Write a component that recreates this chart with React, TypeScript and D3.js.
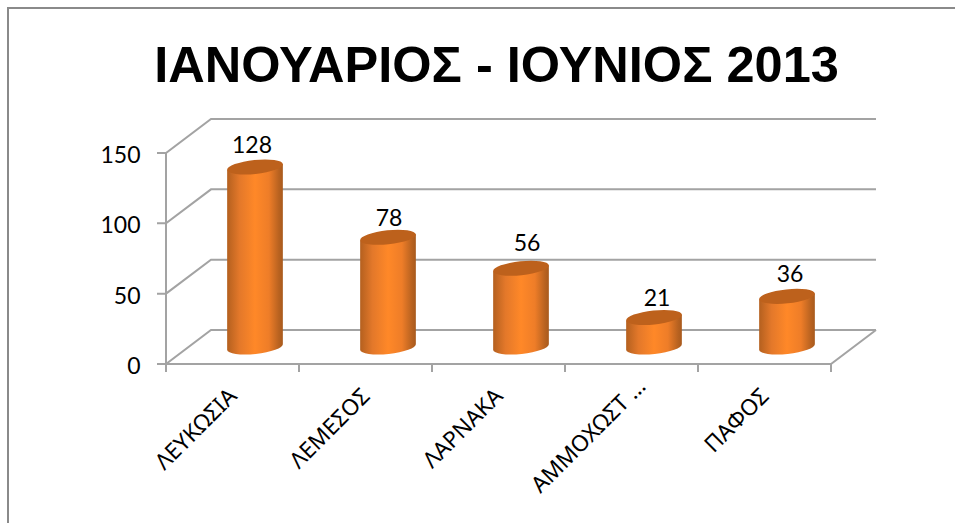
import React from "react";
import * as d3 from "d3";

const title = "ΙΑΝΟΥΑΡΙΟΣ - ΙΟΥΝΙΟΣ 2013";
const categories = ["ΛΕΥΚΩΣΙΑ", "ΛΕΜΕΣΟΣ", "ΛΑΡΝΑΚΑ", "ΑΜΜΟΧΩΣΤ …", "ΠΑΦΟΣ"];
const values = [128, 78, 56, 21, 36];
const yTicks = [0, 50, 100, 150];
// hand-placed data label offsets, as in the original chart
const valueLabelDx = [-3, 1, 6, 3, 3];
const valueLabelDy = [-14, -11, -17, -11.5, -14.5];
const categoryLabelShift = [0, 0, 0, 10, 0];

const W = 955, H = 523;
const depthX = 45, depthY = -34;
const x = d3.scaleBand<string>().domain(categories).range([166, 831]);
const y = d3.scaleLinear().domain([0, 150]).range([364, 153]);
const rx = 28, ry = 7, tilt = -6;
const grid = "#a3a3a3";
const labelFont = "'Noto Sans', sans-serif";
const numFont = "Lato, 'Noto Sans', sans-serif";

function Cylinder({ cx, topY, baseY }: { cx: number; topY: number; baseY: number }) {
  const a = (tilt * Math.PI) / 180;
  const dx = rx * Math.cos(a), dy = rx * Math.sin(a);
  const body = `M${cx - dx},${topY - dy} L${cx - dx},${baseY - dy} A${rx},${ry} ${tilt} 0 0 ${cx + dx},${baseY + dy} L${cx + dx},${topY + dy} Z`;
  return (
    <g>
      <path d={body} fill="url(#cyl)" />
      <ellipse cx={cx} cy={topY} rx={rx} ry={ry} transform={`rotate(${tilt} ${cx} ${topY})`} fill="#bd611c" />
    </g>
  );
}

export default function App() {
  const [x0, x1] = x.range();
  const y0 = y(0);
  return (
    <svg width={W} height={H} style={{ position: "absolute", left: 0, top: 0, background: "#fff" }}>
      <defs>
        <linearGradient id="cyl" x1="0" x2="1" y1="0" y2="0">
          <stop offset="0" stopColor="#b4601f" />
          <stop offset="0.22" stopColor="#e3782a" />
          <stop offset="0.5" stopColor="#ff8828" />
          <stop offset="0.75" stopColor="#ee7d28" />
          <stop offset="0.93" stopColor="#b86220" />
          <stop offset="1" stopColor="#a85a1d" />
        </linearGradient>
      </defs>
      <path d={`M8,${H} V8 H${W}`} fill="none" stroke="#8a8a8a" strokeWidth={2} />
      <text x={496.5} y={82} textAnchor="middle" fontFamily="'Liberation Sans', Arial, sans-serif" fontWeight={700} fontSize={50.5} fill="#000">{title}</text>

      {yTicks.map((t) => (
        <g key={t} stroke={grid} strokeWidth={2} fill="none">
          <path d={`M${x0 - 9},${y(t)} H${x0} L${x0 + depthX},${y(t) + depthY} H${x1 + depthX}`} />
        </g>
      ))}
      <path d={`M${x0},${y(150)} V${y0 + 8}`} stroke={grid} strokeWidth={2} fill="none" />
      <path d={`M${x0},${y0} H${x1} L${x1 + depthX},${y0 + depthY}`} stroke={grid} strokeWidth={2} fill="none" />
      {categories.concat("").map((c, i) => {
        const tx = x0 + i * x.bandwidth();
        return <path key={i} d={`M${tx},${y0} V${y0 + 8}`} stroke={grid} strokeWidth={2} />;
      })}

      {yTicks.map((t) => (
        <text key={t} x={140.5} y={y(t) + 10} textAnchor="end" fontFamily={numFont} fontSize={23} fill="#000">{t}</text>
      ))}

      {categories.map((c, i) => {
        const cx = x(c)! + x.bandwidth() / 2 + depthX / 2;
        return (
          <g key={c}>
            <Cylinder cx={cx} topY={y(values[i]) + depthY / 2} baseY={y0 + depthY / 2} />
            <text x={cx + valueLabelDx[i]} y={y(values[i]) + depthY / 2 + valueLabelDy[i]} textAnchor="middle" fontFamily={numFont} fontSize={23} fill="#000">{values[i]}</text>
          </g>
        );
      })}

      {categories.map((c, i) => {
        const s = categoryLabelShift[i];
        const ex = x(c)! + x.bandwidth() / 2 - 8 + s;
        return (
          <text key={c} transform={`translate(${ex},${384 - s}) rotate(-45)`} textAnchor="end" dominantBaseline="hanging" fontFamily={labelFont} fontSize={22.5} fill="#000">{c}</text>
        );
      })}
    </svg>
  );
}
